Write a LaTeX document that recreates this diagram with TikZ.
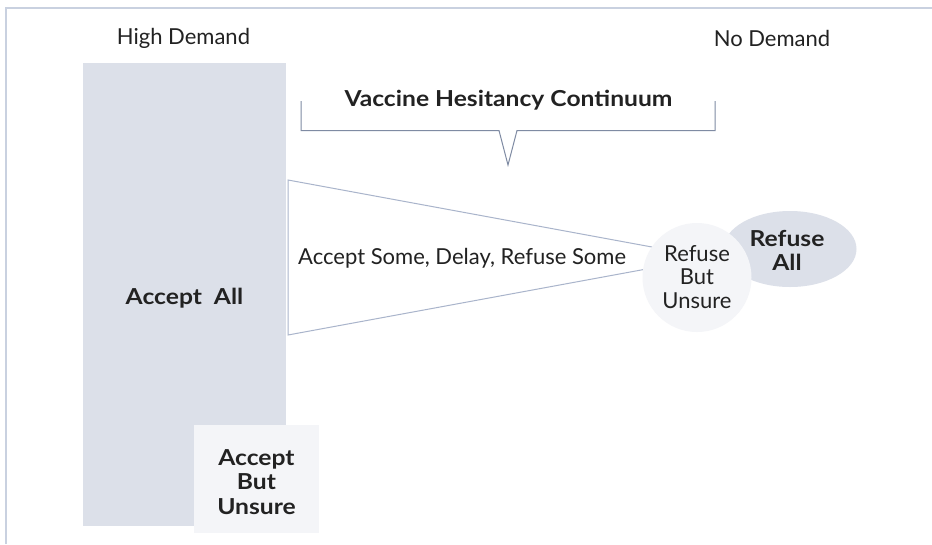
\documentclass[tikz,border=0pt]{standalone}
\usepackage{fontspec}
\setmainfont{Lato}[BoldFeatures={FakeStretch=1.12}]
\usetikzlibrary{shapes.geometric}
\definecolor{fillA}{HTML}{DCE0E9}
\definecolor{fillB}{HTML}{F4F5F8}
\definecolor{lineC}{HTML}{A9B4CB}
\definecolor{brk}{HTML}{7F8BA3}
\definecolor{bord}{HTML}{C9D1E0}
\definecolor{txt}{HTML}{222222}
\newcommand{\fsz}[1]{\fontsize{#1}{24}\selectfont}
\begin{document}
\begin{tikzpicture}[x=1pt,y=-1pt,
  lbl/.style={text=txt, font=\fsz{22}, inner sep=0pt, align=center},
  blbl/.style={text=txt, font=\fsz{22}\bfseries, inner sep=0pt, align=center}]
\useasboundingbox (0,0) rectangle (932,544);
\fill[white] (0,0) rectangle (932,544);
\draw[bord, line width=2pt] (5.5,544) -- (5.5,8) -- (932,8);

\node[lbl] (hd) at (183.5,38) {High Demand};
\node[lbl] (nd) at (772,38) {No Demand};

\node[fill=fillA, minimum width=203pt, minimum height=463pt, anchor=north west, inner sep=0pt] (aabox) at (83,63) {};
\node[blbl] (aa) at (184.5,298) {Accept\ \ All};

\node[fill=fillB, minimum width=125pt, minimum height=108pt, anchor=north west, inner sep=0pt] (abubox) at (194,425) {};
\node[blbl, font=\fontsize{22}{24.5}\selectfont\bfseries] (abu) at (256.5,482) {Accept\\But\\Unsure};

\draw[lineC, fill=white, line width=1pt] (288,180) -- (709,257.5) -- (288,335) -- cycle;
\node[lbl, anchor=west] (some) at (298,258) {Accept Some, Delay, Refuse Some};

\node[blbl] (title) at (508.5,100) {Vaccine Hesitancy Continuum};
\draw[brk, line width=1pt] (301,101) -- (301,130.5) -- (499,130.5) -- (508,165) -- (517,130.5) -- (715,130.5) -- (715,101);

\node[ellipse, fill=fillA, minimum width=133pt, minimum height=76pt, inner sep=0pt] (ra) at (790,249) {};
\node[blbl, font=\fontsize{22}{24}\selectfont\bfseries] at (787,250) {Refuse\\All};

\node[circle, fill=fillB, minimum size=109pt, inner sep=0pt] (rbu) at (697,277.5) {};
\node[lbl, font=\fontsize{22}{23.5}\selectfont] at (697,277) {Refuse\\But\\Unsure};
\end{tikzpicture}
\end{document}
